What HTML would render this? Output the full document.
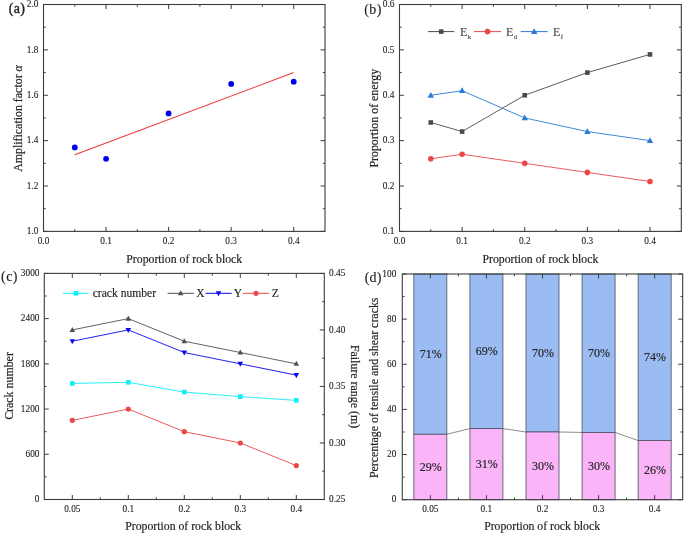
<!DOCTYPE html>
<html><head><meta charset="utf-8"><style>
html,body{margin:0;padding:0;background:#fff;width:685px;height:535px;overflow:hidden}
svg{display:block;font-family:"Liberation Serif", serif;will-change:transform;transform:translateZ(0)}
text{stroke:#2a2a2a;stroke-width:0.18px}
text.tk{stroke-width:0.1px}
text.pl{stroke-width:0.12px}
text.lg{stroke:#444;stroke-width:0.12px}
text.lg2{stroke-width:0.15px}
</style></head><body>
<svg width="685" height="535" viewBox="0 0 685 535">
<rect width="685" height="535" fill="#fff"/>
<rect x="43.50" y="4.50" width="281.50" height="226.90" fill="none" stroke="#3c3c3c" stroke-width="1.1"/>
<line x1="43.50" y1="231.40" x2="43.50" y2="226.90" stroke="#3c3c3c" stroke-width="1"/>
<line x1="43.50" y1="4.50" x2="43.50" y2="9.00" stroke="#3c3c3c" stroke-width="1"/>
<text transform="translate(43.50,243.50) scale(1,1.1)" font-size="9.35" text-anchor="middle" fill="#222" class="tk" >0.0</text>
<line x1="106.06" y1="231.40" x2="106.06" y2="226.90" stroke="#3c3c3c" stroke-width="1"/>
<line x1="106.06" y1="4.50" x2="106.06" y2="9.00" stroke="#3c3c3c" stroke-width="1"/>
<text transform="translate(106.06,243.50) scale(1,1.1)" font-size="9.35" text-anchor="middle" fill="#222" class="tk" >0.1</text>
<line x1="168.61" y1="231.40" x2="168.61" y2="226.90" stroke="#3c3c3c" stroke-width="1"/>
<line x1="168.61" y1="4.50" x2="168.61" y2="9.00" stroke="#3c3c3c" stroke-width="1"/>
<text transform="translate(168.61,243.50) scale(1,1.1)" font-size="9.35" text-anchor="middle" fill="#222" class="tk" >0.2</text>
<line x1="231.17" y1="231.40" x2="231.17" y2="226.90" stroke="#3c3c3c" stroke-width="1"/>
<line x1="231.17" y1="4.50" x2="231.17" y2="9.00" stroke="#3c3c3c" stroke-width="1"/>
<text transform="translate(231.17,243.50) scale(1,1.1)" font-size="9.35" text-anchor="middle" fill="#222" class="tk" >0.3</text>
<line x1="293.72" y1="231.40" x2="293.72" y2="226.90" stroke="#3c3c3c" stroke-width="1"/>
<line x1="293.72" y1="4.50" x2="293.72" y2="9.00" stroke="#3c3c3c" stroke-width="1"/>
<text transform="translate(293.72,243.50) scale(1,1.1)" font-size="9.35" text-anchor="middle" fill="#222" class="tk" >0.4</text>
<line x1="74.78" y1="231.40" x2="74.78" y2="229.20" stroke="#3c3c3c" stroke-width="1"/>
<line x1="74.78" y1="4.50" x2="74.78" y2="6.70" stroke="#3c3c3c" stroke-width="1"/>
<line x1="137.33" y1="231.40" x2="137.33" y2="229.20" stroke="#3c3c3c" stroke-width="1"/>
<line x1="137.33" y1="4.50" x2="137.33" y2="6.70" stroke="#3c3c3c" stroke-width="1"/>
<line x1="199.89" y1="231.40" x2="199.89" y2="229.20" stroke="#3c3c3c" stroke-width="1"/>
<line x1="199.89" y1="4.50" x2="199.89" y2="6.70" stroke="#3c3c3c" stroke-width="1"/>
<line x1="262.44" y1="231.40" x2="262.44" y2="229.20" stroke="#3c3c3c" stroke-width="1"/>
<line x1="262.44" y1="4.50" x2="262.44" y2="6.70" stroke="#3c3c3c" stroke-width="1"/>
<line x1="43.50" y1="231.40" x2="48.00" y2="231.40" stroke="#3c3c3c" stroke-width="1"/>
<line x1="325.00" y1="231.40" x2="320.50" y2="231.40" stroke="#3c3c3c" stroke-width="1"/>
<text transform="translate(38.50,234.10) scale(1,1.1)" font-size="9.35" text-anchor="end" fill="#222" class="tk" >1.0</text>
<line x1="43.50" y1="186.02" x2="48.00" y2="186.02" stroke="#3c3c3c" stroke-width="1"/>
<line x1="325.00" y1="186.02" x2="320.50" y2="186.02" stroke="#3c3c3c" stroke-width="1"/>
<text transform="translate(38.50,188.72) scale(1,1.1)" font-size="9.35" text-anchor="end" fill="#222" class="tk" >1.2</text>
<line x1="43.50" y1="140.64" x2="48.00" y2="140.64" stroke="#3c3c3c" stroke-width="1"/>
<line x1="325.00" y1="140.64" x2="320.50" y2="140.64" stroke="#3c3c3c" stroke-width="1"/>
<text transform="translate(38.50,143.34) scale(1,1.1)" font-size="9.35" text-anchor="end" fill="#222" class="tk" >1.4</text>
<line x1="43.50" y1="95.26" x2="48.00" y2="95.26" stroke="#3c3c3c" stroke-width="1"/>
<line x1="325.00" y1="95.26" x2="320.50" y2="95.26" stroke="#3c3c3c" stroke-width="1"/>
<text transform="translate(38.50,97.96) scale(1,1.1)" font-size="9.35" text-anchor="end" fill="#222" class="tk" >1.6</text>
<line x1="43.50" y1="49.88" x2="48.00" y2="49.88" stroke="#3c3c3c" stroke-width="1"/>
<line x1="325.00" y1="49.88" x2="320.50" y2="49.88" stroke="#3c3c3c" stroke-width="1"/>
<text transform="translate(38.50,52.58) scale(1,1.1)" font-size="9.35" text-anchor="end" fill="#222" class="tk" >1.8</text>
<line x1="43.50" y1="4.50" x2="48.00" y2="4.50" stroke="#3c3c3c" stroke-width="1"/>
<line x1="325.00" y1="4.50" x2="320.50" y2="4.50" stroke="#3c3c3c" stroke-width="1"/>
<text transform="translate(38.50,7.20) scale(1,1.1)" font-size="9.35" text-anchor="end" fill="#222" class="tk" >2.0</text>
<line x1="43.50" y1="208.71" x2="45.70" y2="208.71" stroke="#3c3c3c" stroke-width="1"/>
<line x1="325.00" y1="208.71" x2="322.80" y2="208.71" stroke="#3c3c3c" stroke-width="1"/>
<line x1="43.50" y1="163.33" x2="45.70" y2="163.33" stroke="#3c3c3c" stroke-width="1"/>
<line x1="325.00" y1="163.33" x2="322.80" y2="163.33" stroke="#3c3c3c" stroke-width="1"/>
<line x1="43.50" y1="117.95" x2="45.70" y2="117.95" stroke="#3c3c3c" stroke-width="1"/>
<line x1="325.00" y1="117.95" x2="322.80" y2="117.95" stroke="#3c3c3c" stroke-width="1"/>
<line x1="43.50" y1="72.57" x2="45.70" y2="72.57" stroke="#3c3c3c" stroke-width="1"/>
<line x1="325.00" y1="72.57" x2="322.80" y2="72.57" stroke="#3c3c3c" stroke-width="1"/>
<line x1="43.50" y1="27.19" x2="45.70" y2="27.19" stroke="#3c3c3c" stroke-width="1"/>
<line x1="325.00" y1="27.19" x2="322.80" y2="27.19" stroke="#3c3c3c" stroke-width="1"/>
<text x="184.25" y="262.50" font-size="11.75" text-anchor="middle" fill="#222" >Proportion of rock block</text>
<text transform="translate(21.6,118.5) rotate(-90)" font-size="11.9" text-anchor="middle" fill="#222">Amplification factor <tspan font-style="italic">α</tspan></text>
<text x="8.80" y="12.50" font-size="14" text-anchor="start" fill="#222" style="stroke-width:0.4px" letter-spacing="0.3">(a)</text>
<line x1="74.78" y1="154.71" x2="293.72" y2="72.57" stroke="#f03838" stroke-width="1.1"/>
<circle cx="74.78" cy="147.45" r="2.9" fill="#0000f0"/>
<circle cx="106.06" cy="158.79" r="2.9" fill="#0000f0"/>
<circle cx="168.61" cy="113.41" r="2.9" fill="#0000f0"/>
<circle cx="231.17" cy="83.92" r="2.9" fill="#0000f0"/>
<circle cx="293.72" cy="81.65" r="2.9" fill="#0000f0"/>
<rect x="399.50" y="4.50" width="281.80" height="226.90" fill="none" stroke="#3c3c3c" stroke-width="1.1"/>
<line x1="399.50" y1="231.40" x2="399.50" y2="226.90" stroke="#3c3c3c" stroke-width="1"/>
<line x1="399.50" y1="4.50" x2="399.50" y2="9.00" stroke="#3c3c3c" stroke-width="1"/>
<text transform="translate(399.50,243.50) scale(1,1.1)" font-size="9.35" text-anchor="middle" fill="#222" class="tk" >0.0</text>
<line x1="462.12" y1="231.40" x2="462.12" y2="226.90" stroke="#3c3c3c" stroke-width="1"/>
<line x1="462.12" y1="4.50" x2="462.12" y2="9.00" stroke="#3c3c3c" stroke-width="1"/>
<text transform="translate(462.12,243.50) scale(1,1.1)" font-size="9.35" text-anchor="middle" fill="#222" class="tk" >0.1</text>
<line x1="524.74" y1="231.40" x2="524.74" y2="226.90" stroke="#3c3c3c" stroke-width="1"/>
<line x1="524.74" y1="4.50" x2="524.74" y2="9.00" stroke="#3c3c3c" stroke-width="1"/>
<text transform="translate(524.74,243.50) scale(1,1.1)" font-size="9.35" text-anchor="middle" fill="#222" class="tk" >0.2</text>
<line x1="587.37" y1="231.40" x2="587.37" y2="226.90" stroke="#3c3c3c" stroke-width="1"/>
<line x1="587.37" y1="4.50" x2="587.37" y2="9.00" stroke="#3c3c3c" stroke-width="1"/>
<text transform="translate(587.37,243.50) scale(1,1.1)" font-size="9.35" text-anchor="middle" fill="#222" class="tk" >0.3</text>
<line x1="649.99" y1="231.40" x2="649.99" y2="226.90" stroke="#3c3c3c" stroke-width="1"/>
<line x1="649.99" y1="4.50" x2="649.99" y2="9.00" stroke="#3c3c3c" stroke-width="1"/>
<text transform="translate(649.99,243.50) scale(1,1.1)" font-size="9.35" text-anchor="middle" fill="#222" class="tk" >0.4</text>
<line x1="430.81" y1="231.40" x2="430.81" y2="229.20" stroke="#3c3c3c" stroke-width="1"/>
<line x1="430.81" y1="4.50" x2="430.81" y2="6.70" stroke="#3c3c3c" stroke-width="1"/>
<line x1="493.43" y1="231.40" x2="493.43" y2="229.20" stroke="#3c3c3c" stroke-width="1"/>
<line x1="493.43" y1="4.50" x2="493.43" y2="6.70" stroke="#3c3c3c" stroke-width="1"/>
<line x1="556.06" y1="231.40" x2="556.06" y2="229.20" stroke="#3c3c3c" stroke-width="1"/>
<line x1="556.06" y1="4.50" x2="556.06" y2="6.70" stroke="#3c3c3c" stroke-width="1"/>
<line x1="618.68" y1="231.40" x2="618.68" y2="229.20" stroke="#3c3c3c" stroke-width="1"/>
<line x1="618.68" y1="4.50" x2="618.68" y2="6.70" stroke="#3c3c3c" stroke-width="1"/>
<line x1="399.50" y1="231.40" x2="404.00" y2="231.40" stroke="#3c3c3c" stroke-width="1"/>
<line x1="681.30" y1="231.40" x2="676.80" y2="231.40" stroke="#3c3c3c" stroke-width="1"/>
<text transform="translate(394.50,234.10) scale(1,1.1)" font-size="9.35" text-anchor="end" fill="#222" class="tk" >0.1</text>
<line x1="399.50" y1="186.02" x2="404.00" y2="186.02" stroke="#3c3c3c" stroke-width="1"/>
<line x1="681.30" y1="186.02" x2="676.80" y2="186.02" stroke="#3c3c3c" stroke-width="1"/>
<text transform="translate(394.50,188.72) scale(1,1.1)" font-size="9.35" text-anchor="end" fill="#222" class="tk" >0.2</text>
<line x1="399.50" y1="140.64" x2="404.00" y2="140.64" stroke="#3c3c3c" stroke-width="1"/>
<line x1="681.30" y1="140.64" x2="676.80" y2="140.64" stroke="#3c3c3c" stroke-width="1"/>
<text transform="translate(394.50,143.34) scale(1,1.1)" font-size="9.35" text-anchor="end" fill="#222" class="tk" >0.3</text>
<line x1="399.50" y1="95.26" x2="404.00" y2="95.26" stroke="#3c3c3c" stroke-width="1"/>
<line x1="681.30" y1="95.26" x2="676.80" y2="95.26" stroke="#3c3c3c" stroke-width="1"/>
<text transform="translate(394.50,97.96) scale(1,1.1)" font-size="9.35" text-anchor="end" fill="#222" class="tk" >0.4</text>
<line x1="399.50" y1="49.88" x2="404.00" y2="49.88" stroke="#3c3c3c" stroke-width="1"/>
<line x1="681.30" y1="49.88" x2="676.80" y2="49.88" stroke="#3c3c3c" stroke-width="1"/>
<text transform="translate(394.50,52.58) scale(1,1.1)" font-size="9.35" text-anchor="end" fill="#222" class="tk" >0.5</text>
<line x1="399.50" y1="4.50" x2="404.00" y2="4.50" stroke="#3c3c3c" stroke-width="1"/>
<line x1="681.30" y1="4.50" x2="676.80" y2="4.50" stroke="#3c3c3c" stroke-width="1"/>
<text transform="translate(394.50,7.20) scale(1,1.1)" font-size="9.35" text-anchor="end" fill="#222" class="tk" >0.6</text>
<line x1="399.50" y1="208.71" x2="401.70" y2="208.71" stroke="#3c3c3c" stroke-width="1"/>
<line x1="681.30" y1="208.71" x2="679.10" y2="208.71" stroke="#3c3c3c" stroke-width="1"/>
<line x1="399.50" y1="163.33" x2="401.70" y2="163.33" stroke="#3c3c3c" stroke-width="1"/>
<line x1="681.30" y1="163.33" x2="679.10" y2="163.33" stroke="#3c3c3c" stroke-width="1"/>
<line x1="399.50" y1="117.95" x2="401.70" y2="117.95" stroke="#3c3c3c" stroke-width="1"/>
<line x1="681.30" y1="117.95" x2="679.10" y2="117.95" stroke="#3c3c3c" stroke-width="1"/>
<line x1="399.50" y1="72.57" x2="401.70" y2="72.57" stroke="#3c3c3c" stroke-width="1"/>
<line x1="681.30" y1="72.57" x2="679.10" y2="72.57" stroke="#3c3c3c" stroke-width="1"/>
<line x1="399.50" y1="27.19" x2="401.70" y2="27.19" stroke="#3c3c3c" stroke-width="1"/>
<line x1="681.30" y1="27.19" x2="679.10" y2="27.19" stroke="#3c3c3c" stroke-width="1"/>
<text x="540.40" y="262.50" font-size="11.75" text-anchor="middle" fill="#222" >Proportion of rock block</text>
<text transform="translate(378,118.2) rotate(-90)" font-size="11.9" text-anchor="middle" fill="#222">Proportion of energy</text>
<text x="364.30" y="13.70" font-size="14" text-anchor="start" fill="#222" class="pl" letter-spacing="0.4">(b)</text>
<polyline points="430.81,122.49 462.12,131.56 524.74,95.26 587.37,72.57 649.99,54.42" fill="none" stroke="#4a4a4a" stroke-width="0.9"/>
<polyline points="430.81,158.79 462.12,154.25 524.74,163.33 587.37,172.41 649.99,181.48" fill="none" stroke="#e84848" stroke-width="0.9"/>
<polyline points="430.81,95.26 462.12,90.72 524.74,117.95 587.37,131.56 649.99,140.64" fill="none" stroke="#2a7ad8" stroke-width="0.9"/>
<rect x="428.51" y="120.19" width="4.6" height="4.6" fill="#4a4a4a"/>
<rect x="459.82" y="129.26" width="4.6" height="4.6" fill="#4a4a4a"/>
<rect x="522.44" y="92.96" width="4.6" height="4.6" fill="#4a4a4a"/>
<rect x="585.07" y="70.27" width="4.6" height="4.6" fill="#4a4a4a"/>
<rect x="647.69" y="52.12" width="4.6" height="4.6" fill="#4a4a4a"/>
<circle cx="430.81" cy="158.79" r="2.8" fill="#e84848"/>
<circle cx="462.12" cy="154.25" r="2.8" fill="#e84848"/>
<circle cx="524.74" cy="163.33" r="2.8" fill="#e84848"/>
<circle cx="587.37" cy="172.41" r="2.8" fill="#e84848"/>
<circle cx="649.99" cy="181.48" r="2.8" fill="#e84848"/>
<polygon points="427.61,97.64 434.01,97.64 430.81,91.88" fill="#2a7ad8"/>
<polygon points="458.92,93.10 465.32,93.10 462.12,87.34" fill="#2a7ad8"/>
<polygon points="521.54,120.33 527.94,120.33 524.74,114.57" fill="#2a7ad8"/>
<polygon points="584.17,133.94 590.57,133.94 587.37,128.18" fill="#2a7ad8"/>
<polygon points="646.79,143.02 653.19,143.02 649.99,137.26" fill="#2a7ad8"/>
<line x1="428.10" y1="31.60" x2="454.40" y2="31.60" stroke="#4a4a4a" stroke-width="1"/>
<rect x="438.95" y="29.30" width="4.6" height="4.6" fill="#4a4a4a"/>
<text x="460.00" y="35.90" font-size="12" text-anchor="start" fill="#444" class="lg">E<tspan font-size="7" dx="0.4" dy="3">k</tspan></text>
<line x1="474.00" y1="31.60" x2="501.00" y2="31.60" stroke="#e84848" stroke-width="1"/>
<circle cx="487.50" cy="31.60" r="2.8" fill="#e84848"/>
<text x="506.00" y="35.90" font-size="12" text-anchor="start" fill="#444" class="lg">E<tspan font-size="7" dx="0.4" dy="3">d</tspan></text>
<line x1="520.70" y1="31.60" x2="547.70" y2="31.60" stroke="#2a7ad8" stroke-width="1"/>
<polygon points="530.90,34.07 537.50,34.07 534.20,28.13" fill="#2a7ad8"/>
<text x="553.00" y="35.90" font-size="12" text-anchor="start" fill="#444" class="lg">E<tspan font-size="7" dx="0.4" dy="3">f</tspan></text>
<rect x="44.30" y="273.40" width="280.00" height="226.10" fill="none" stroke="#3c3c3c" stroke-width="1.1"/>
<line x1="72.30" y1="499.50" x2="72.30" y2="495.00" stroke="#3c3c3c" stroke-width="1"/>
<line x1="72.30" y1="273.40" x2="72.30" y2="277.90" stroke="#3c3c3c" stroke-width="1"/>
<text transform="translate(72.30,512.00) scale(1,1.1)" font-size="9.35" text-anchor="middle" fill="#222" class="tk" >0.05</text>
<line x1="128.30" y1="499.50" x2="128.30" y2="495.00" stroke="#3c3c3c" stroke-width="1"/>
<line x1="128.30" y1="273.40" x2="128.30" y2="277.90" stroke="#3c3c3c" stroke-width="1"/>
<text transform="translate(128.30,512.00) scale(1,1.1)" font-size="9.35" text-anchor="middle" fill="#222" class="tk" >0.1</text>
<line x1="184.30" y1="499.50" x2="184.30" y2="495.00" stroke="#3c3c3c" stroke-width="1"/>
<line x1="184.30" y1="273.40" x2="184.30" y2="277.90" stroke="#3c3c3c" stroke-width="1"/>
<text transform="translate(184.30,512.00) scale(1,1.1)" font-size="9.35" text-anchor="middle" fill="#222" class="tk" >0.2</text>
<line x1="240.30" y1="499.50" x2="240.30" y2="495.00" stroke="#3c3c3c" stroke-width="1"/>
<line x1="240.30" y1="273.40" x2="240.30" y2="277.90" stroke="#3c3c3c" stroke-width="1"/>
<text transform="translate(240.30,512.00) scale(1,1.1)" font-size="9.35" text-anchor="middle" fill="#222" class="tk" >0.3</text>
<line x1="296.30" y1="499.50" x2="296.30" y2="495.00" stroke="#3c3c3c" stroke-width="1"/>
<line x1="296.30" y1="273.40" x2="296.30" y2="277.90" stroke="#3c3c3c" stroke-width="1"/>
<text transform="translate(296.30,512.00) scale(1,1.1)" font-size="9.35" text-anchor="middle" fill="#222" class="tk" >0.4</text>
<line x1="100.30" y1="499.50" x2="100.30" y2="497.30" stroke="#3c3c3c" stroke-width="1"/>
<line x1="100.30" y1="273.40" x2="100.30" y2="275.60" stroke="#3c3c3c" stroke-width="1"/>
<line x1="156.30" y1="499.50" x2="156.30" y2="497.30" stroke="#3c3c3c" stroke-width="1"/>
<line x1="156.30" y1="273.40" x2="156.30" y2="275.60" stroke="#3c3c3c" stroke-width="1"/>
<line x1="212.30" y1="499.50" x2="212.30" y2="497.30" stroke="#3c3c3c" stroke-width="1"/>
<line x1="212.30" y1="273.40" x2="212.30" y2="275.60" stroke="#3c3c3c" stroke-width="1"/>
<line x1="268.30" y1="499.50" x2="268.30" y2="497.30" stroke="#3c3c3c" stroke-width="1"/>
<line x1="268.30" y1="273.40" x2="268.30" y2="275.60" stroke="#3c3c3c" stroke-width="1"/>
<line x1="44.30" y1="499.50" x2="48.80" y2="499.50" stroke="#3c3c3c" stroke-width="1"/>
<text transform="translate(39.50,502.20) scale(1,1.1)" font-size="9.35" text-anchor="end" fill="#222" class="tk" >0</text>
<line x1="44.30" y1="454.28" x2="48.80" y2="454.28" stroke="#3c3c3c" stroke-width="1"/>
<text transform="translate(39.50,456.98) scale(1,1.1)" font-size="9.35" text-anchor="end" fill="#222" class="tk" >600</text>
<line x1="44.30" y1="409.06" x2="48.80" y2="409.06" stroke="#3c3c3c" stroke-width="1"/>
<text transform="translate(39.50,411.76) scale(1,1.1)" font-size="9.35" text-anchor="end" fill="#222" class="tk" >1200</text>
<line x1="44.30" y1="363.84" x2="48.80" y2="363.84" stroke="#3c3c3c" stroke-width="1"/>
<text transform="translate(39.50,366.54) scale(1,1.1)" font-size="9.35" text-anchor="end" fill="#222" class="tk" >1800</text>
<line x1="44.30" y1="318.62" x2="48.80" y2="318.62" stroke="#3c3c3c" stroke-width="1"/>
<text transform="translate(39.50,321.32) scale(1,1.1)" font-size="9.35" text-anchor="end" fill="#222" class="tk" >2400</text>
<line x1="44.30" y1="273.40" x2="48.80" y2="273.40" stroke="#3c3c3c" stroke-width="1"/>
<text transform="translate(39.50,276.10) scale(1,1.1)" font-size="9.35" text-anchor="end" fill="#222" class="tk" >3000</text>
<line x1="44.30" y1="476.89" x2="46.50" y2="476.89" stroke="#3c3c3c" stroke-width="1"/>
<line x1="44.30" y1="431.67" x2="46.50" y2="431.67" stroke="#3c3c3c" stroke-width="1"/>
<line x1="44.30" y1="386.45" x2="46.50" y2="386.45" stroke="#3c3c3c" stroke-width="1"/>
<line x1="44.30" y1="341.23" x2="46.50" y2="341.23" stroke="#3c3c3c" stroke-width="1"/>
<line x1="44.30" y1="296.01" x2="46.50" y2="296.01" stroke="#3c3c3c" stroke-width="1"/>
<line x1="324.30" y1="499.50" x2="319.80" y2="499.50" stroke="#3c3c3c" stroke-width="1"/>
<text transform="translate(329.00,502.40) scale(1,1.1)" font-size="9.35" text-anchor="start" fill="#222" class="tk" >0.25</text>
<line x1="324.30" y1="442.98" x2="319.80" y2="442.98" stroke="#3c3c3c" stroke-width="1"/>
<text transform="translate(329.00,445.88) scale(1,1.1)" font-size="9.35" text-anchor="start" fill="#222" class="tk" >0.30</text>
<line x1="324.30" y1="386.45" x2="319.80" y2="386.45" stroke="#3c3c3c" stroke-width="1"/>
<text transform="translate(329.00,389.35) scale(1,1.1)" font-size="9.35" text-anchor="start" fill="#222" class="tk" >0.35</text>
<line x1="324.30" y1="329.92" x2="319.80" y2="329.92" stroke="#3c3c3c" stroke-width="1"/>
<text transform="translate(329.00,332.82) scale(1,1.1)" font-size="9.35" text-anchor="start" fill="#222" class="tk" >0.40</text>
<line x1="324.30" y1="273.40" x2="319.80" y2="273.40" stroke="#3c3c3c" stroke-width="1"/>
<text transform="translate(329.00,276.30) scale(1,1.1)" font-size="9.35" text-anchor="start" fill="#222" class="tk" >0.45</text>
<line x1="324.30" y1="471.24" x2="322.10" y2="471.24" stroke="#3c3c3c" stroke-width="1"/>
<line x1="324.30" y1="414.71" x2="322.10" y2="414.71" stroke="#3c3c3c" stroke-width="1"/>
<line x1="324.30" y1="358.19" x2="322.10" y2="358.19" stroke="#3c3c3c" stroke-width="1"/>
<line x1="324.30" y1="301.66" x2="322.10" y2="301.66" stroke="#3c3c3c" stroke-width="1"/>
<text x="183.20" y="530.40" font-size="11.75" text-anchor="middle" fill="#222" >Proportion of rock block</text>
<text transform="translate(13.1,386) rotate(-90)" font-size="11.9" text-anchor="middle" fill="#222">Crack number</text>
<text transform="translate(350.8,386.5) rotate(90)" font-size="11.9" text-anchor="middle" fill="#222">Failure range (m)</text>
<text x="1.10" y="280.70" font-size="14" text-anchor="start" fill="#222" class="pl" letter-spacing="0.4">(c)</text>
<polyline points="72.30,383.44 128.30,382.30 184.30,392.10 240.30,396.62 296.30,400.39" fill="none" stroke="#10eef8" stroke-width="0.9"/>
<polyline points="72.30,329.92 128.30,318.62 184.30,341.23 240.30,352.53 296.30,363.84" fill="none" stroke="#505050" stroke-width="0.9"/>
<polyline points="72.30,341.23 128.30,329.92 184.30,352.53 240.30,363.84 296.30,375.14" fill="none" stroke="#0808f0" stroke-width="0.9"/>
<polyline points="72.30,420.37 128.30,409.06 184.30,431.67 240.30,442.98 296.30,465.58" fill="none" stroke="#e84848" stroke-width="0.9"/>
<rect x="70.00" y="381.14" width="4.6" height="4.6" fill="#10eef8"/>
<rect x="126.00" y="380.00" width="4.6" height="4.6" fill="#10eef8"/>
<rect x="182.00" y="389.80" width="4.6" height="4.6" fill="#10eef8"/>
<rect x="238.00" y="394.32" width="4.6" height="4.6" fill="#10eef8"/>
<rect x="294.00" y="398.09" width="4.6" height="4.6" fill="#10eef8"/>
<polygon points="69.50,331.94 75.10,331.94 72.30,326.90" fill="#505050"/>
<polygon points="125.50,320.64 131.10,320.64 128.30,315.60" fill="#505050"/>
<polygon points="181.50,343.25 187.10,343.25 184.30,338.21" fill="#505050"/>
<polygon points="237.50,354.55 243.10,354.55 240.30,349.51" fill="#505050"/>
<polygon points="293.50,365.86 299.10,365.86 296.30,360.82" fill="#505050"/>
<polygon points="69.50,339.21 75.10,339.21 72.30,344.25" fill="#0808f0"/>
<polygon points="125.50,327.90 131.10,327.90 128.30,332.94" fill="#0808f0"/>
<polygon points="181.50,350.51 187.10,350.51 184.30,355.55" fill="#0808f0"/>
<polygon points="237.50,361.82 243.10,361.82 240.30,366.86" fill="#0808f0"/>
<polygon points="293.50,373.12 299.10,373.12 296.30,378.16" fill="#0808f0"/>
<circle cx="72.30" cy="420.37" r="2.6" fill="#e84848"/>
<circle cx="128.30" cy="409.06" r="2.6" fill="#e84848"/>
<circle cx="184.30" cy="431.67" r="2.6" fill="#e84848"/>
<circle cx="240.30" cy="442.98" r="2.6" fill="#e84848"/>
<circle cx="296.30" cy="465.58" r="2.6" fill="#e84848"/>
<line x1="63.00" y1="293.30" x2="88.50" y2="293.30" stroke="#10eef8" stroke-width="1"/>
<rect x="73.70" y="291.00" width="4.6" height="4.6" fill="#10eef8"/>
<text x="92.70" y="296.50" font-size="11.6" text-anchor="start" fill="#222" class="lg2">crack number</text>
<line x1="167.60" y1="293.30" x2="193.80" y2="293.30" stroke="#505050" stroke-width="1"/>
<polygon points="177.90,295.32 183.50,295.32 180.70,290.28" fill="#505050"/>
<text x="196.20" y="296.90" font-size="11.6" text-anchor="start" fill="#222" class="lg2">X</text>
<line x1="205.50" y1="293.30" x2="231.70" y2="293.30" stroke="#0808f0" stroke-width="1"/>
<polygon points="215.70,291.28 221.30,291.28 218.50,296.32" fill="#0808f0"/>
<text x="233.80" y="296.90" font-size="11.6" text-anchor="start" fill="#222" class="lg2">Y</text>
<line x1="243.00" y1="293.30" x2="269.00" y2="293.30" stroke="#e84848" stroke-width="1"/>
<circle cx="256.00" cy="293.30" r="2.6" fill="#e84848"/>
<text x="271.80" y="296.90" font-size="11.6" text-anchor="start" fill="#222" class="lg2">Z</text>
<rect x="413.84" y="274.00" width="33" height="160.25" fill="#9bbcf2" stroke="#4a4e5c" stroke-width="0.8"/>
<rect x="413.84" y="434.25" width="33" height="65.45" fill="#fbb4f8" stroke="#4a4e5c" stroke-width="0.8"/>
<rect x="469.92" y="274.00" width="33" height="154.60" fill="#9bbcf2" stroke="#4a4e5c" stroke-width="0.8"/>
<rect x="469.92" y="428.60" width="33" height="71.10" fill="#fbb4f8" stroke="#4a4e5c" stroke-width="0.8"/>
<rect x="526.00" y="274.00" width="33" height="157.99" fill="#9bbcf2" stroke="#4a4e5c" stroke-width="0.8"/>
<rect x="526.00" y="431.99" width="33" height="67.71" fill="#fbb4f8" stroke="#4a4e5c" stroke-width="0.8"/>
<rect x="582.08" y="274.00" width="33" height="158.44" fill="#9bbcf2" stroke="#4a4e5c" stroke-width="0.8"/>
<rect x="582.08" y="432.44" width="33" height="67.26" fill="#fbb4f8" stroke="#4a4e5c" stroke-width="0.8"/>
<rect x="638.16" y="274.00" width="33" height="166.57" fill="#9bbcf2" stroke="#4a4e5c" stroke-width="0.8"/>
<rect x="638.16" y="440.57" width="33" height="59.13" fill="#fbb4f8" stroke="#4a4e5c" stroke-width="0.8"/>
<line x1="446.84" y1="434.25" x2="469.92" y2="428.60" stroke="#707070" stroke-width="0.8"/>
<line x1="502.92" y1="428.60" x2="526.00" y2="431.99" stroke="#707070" stroke-width="0.8"/>
<line x1="559.00" y1="431.99" x2="582.08" y2="432.44" stroke="#707070" stroke-width="0.8"/>
<line x1="615.08" y1="432.44" x2="638.16" y2="440.57" stroke="#707070" stroke-width="0.8"/>
<rect x="402.30" y="274.00" width="280.40" height="225.70" fill="none" stroke="#3c3c3c" stroke-width="1.1"/>
<line x1="430.34" y1="499.70" x2="430.34" y2="495.20" stroke="#3c3c3c" stroke-width="1"/>
<line x1="430.34" y1="274.00" x2="430.34" y2="278.50" stroke="#3c3c3c" stroke-width="1"/>
<text transform="translate(430.34,512.00) scale(1,1.1)" font-size="9.35" text-anchor="middle" fill="#222" class="tk" >0.05</text>
<line x1="486.42" y1="499.70" x2="486.42" y2="495.20" stroke="#3c3c3c" stroke-width="1"/>
<line x1="486.42" y1="274.00" x2="486.42" y2="278.50" stroke="#3c3c3c" stroke-width="1"/>
<text transform="translate(486.42,512.00) scale(1,1.1)" font-size="9.35" text-anchor="middle" fill="#222" class="tk" >0.1</text>
<line x1="542.50" y1="499.70" x2="542.50" y2="495.20" stroke="#3c3c3c" stroke-width="1"/>
<line x1="542.50" y1="274.00" x2="542.50" y2="278.50" stroke="#3c3c3c" stroke-width="1"/>
<text transform="translate(542.50,512.00) scale(1,1.1)" font-size="9.35" text-anchor="middle" fill="#222" class="tk" >0.2</text>
<line x1="598.58" y1="499.70" x2="598.58" y2="495.20" stroke="#3c3c3c" stroke-width="1"/>
<line x1="598.58" y1="274.00" x2="598.58" y2="278.50" stroke="#3c3c3c" stroke-width="1"/>
<text transform="translate(598.58,512.00) scale(1,1.1)" font-size="9.35" text-anchor="middle" fill="#222" class="tk" >0.3</text>
<line x1="654.66" y1="499.70" x2="654.66" y2="495.20" stroke="#3c3c3c" stroke-width="1"/>
<line x1="654.66" y1="274.00" x2="654.66" y2="278.50" stroke="#3c3c3c" stroke-width="1"/>
<text transform="translate(654.66,512.00) scale(1,1.1)" font-size="9.35" text-anchor="middle" fill="#222" class="tk" >0.4</text>
<line x1="458.38" y1="499.70" x2="458.38" y2="497.50" stroke="#3c3c3c" stroke-width="1"/>
<line x1="458.38" y1="274.00" x2="458.38" y2="276.20" stroke="#3c3c3c" stroke-width="1"/>
<line x1="514.46" y1="499.70" x2="514.46" y2="497.50" stroke="#3c3c3c" stroke-width="1"/>
<line x1="514.46" y1="274.00" x2="514.46" y2="276.20" stroke="#3c3c3c" stroke-width="1"/>
<line x1="570.54" y1="499.70" x2="570.54" y2="497.50" stroke="#3c3c3c" stroke-width="1"/>
<line x1="570.54" y1="274.00" x2="570.54" y2="276.20" stroke="#3c3c3c" stroke-width="1"/>
<line x1="626.62" y1="499.70" x2="626.62" y2="497.50" stroke="#3c3c3c" stroke-width="1"/>
<line x1="626.62" y1="274.00" x2="626.62" y2="276.20" stroke="#3c3c3c" stroke-width="1"/>
<line x1="402.30" y1="499.70" x2="406.80" y2="499.70" stroke="#3c3c3c" stroke-width="1"/>
<line x1="682.70" y1="499.70" x2="678.20" y2="499.70" stroke="#3c3c3c" stroke-width="1"/>
<text transform="translate(396.30,502.40) scale(1,1.1)" font-size="9.35" text-anchor="end" fill="#222" class="tk" >0</text>
<line x1="402.30" y1="454.56" x2="406.80" y2="454.56" stroke="#3c3c3c" stroke-width="1"/>
<line x1="682.70" y1="454.56" x2="678.20" y2="454.56" stroke="#3c3c3c" stroke-width="1"/>
<text transform="translate(396.30,457.26) scale(1,1.1)" font-size="9.35" text-anchor="end" fill="#222" class="tk" >20</text>
<line x1="402.30" y1="409.42" x2="406.80" y2="409.42" stroke="#3c3c3c" stroke-width="1"/>
<line x1="682.70" y1="409.42" x2="678.20" y2="409.42" stroke="#3c3c3c" stroke-width="1"/>
<text transform="translate(396.30,412.12) scale(1,1.1)" font-size="9.35" text-anchor="end" fill="#222" class="tk" >40</text>
<line x1="402.30" y1="364.28" x2="406.80" y2="364.28" stroke="#3c3c3c" stroke-width="1"/>
<line x1="682.70" y1="364.28" x2="678.20" y2="364.28" stroke="#3c3c3c" stroke-width="1"/>
<text transform="translate(396.30,366.98) scale(1,1.1)" font-size="9.35" text-anchor="end" fill="#222" class="tk" >60</text>
<line x1="402.30" y1="319.14" x2="406.80" y2="319.14" stroke="#3c3c3c" stroke-width="1"/>
<line x1="682.70" y1="319.14" x2="678.20" y2="319.14" stroke="#3c3c3c" stroke-width="1"/>
<text transform="translate(396.30,321.84) scale(1,1.1)" font-size="9.35" text-anchor="end" fill="#222" class="tk" >80</text>
<line x1="402.30" y1="274.00" x2="406.80" y2="274.00" stroke="#3c3c3c" stroke-width="1"/>
<line x1="682.70" y1="274.00" x2="678.20" y2="274.00" stroke="#3c3c3c" stroke-width="1"/>
<text transform="translate(396.30,276.70) scale(1,1.1)" font-size="9.35" text-anchor="end" fill="#222" class="tk" >100</text>
<line x1="402.30" y1="477.13" x2="404.50" y2="477.13" stroke="#3c3c3c" stroke-width="1"/>
<line x1="682.70" y1="477.13" x2="680.50" y2="477.13" stroke="#3c3c3c" stroke-width="1"/>
<line x1="402.30" y1="431.99" x2="404.50" y2="431.99" stroke="#3c3c3c" stroke-width="1"/>
<line x1="682.70" y1="431.99" x2="680.50" y2="431.99" stroke="#3c3c3c" stroke-width="1"/>
<line x1="402.30" y1="386.85" x2="404.50" y2="386.85" stroke="#3c3c3c" stroke-width="1"/>
<line x1="682.70" y1="386.85" x2="680.50" y2="386.85" stroke="#3c3c3c" stroke-width="1"/>
<line x1="402.30" y1="341.71" x2="404.50" y2="341.71" stroke="#3c3c3c" stroke-width="1"/>
<line x1="682.70" y1="341.71" x2="680.50" y2="341.71" stroke="#3c3c3c" stroke-width="1"/>
<line x1="402.30" y1="296.57" x2="404.50" y2="296.57" stroke="#3c3c3c" stroke-width="1"/>
<line x1="682.70" y1="296.57" x2="680.50" y2="296.57" stroke="#3c3c3c" stroke-width="1"/>
<text x="430.74" y="358.12" font-size="12" text-anchor="middle" fill="#222" >71%</text>
<text x="430.74" y="470.97" font-size="12" text-anchor="middle" fill="#222" >29%</text>
<text x="486.82" y="355.30" font-size="12" text-anchor="middle" fill="#222" >69%</text>
<text x="486.82" y="468.15" font-size="12" text-anchor="middle" fill="#222" >31%</text>
<text x="542.90" y="357.00" font-size="12" text-anchor="middle" fill="#222" >70%</text>
<text x="542.90" y="469.84" font-size="12" text-anchor="middle" fill="#222" >30%</text>
<text x="598.98" y="357.22" font-size="12" text-anchor="middle" fill="#222" >70%</text>
<text x="598.98" y="470.07" font-size="12" text-anchor="middle" fill="#222" >30%</text>
<text x="655.06" y="361.28" font-size="12" text-anchor="middle" fill="#222" >74%</text>
<text x="655.06" y="474.13" font-size="12" text-anchor="middle" fill="#222" >26%</text>
<text x="542.10" y="530.30" font-size="11.75" text-anchor="middle" fill="#222" >Proportion of rock block</text>
<text transform="translate(377.9,387.8) rotate(-90)" font-size="11.9" text-anchor="middle" fill="#222">Percentage of tensile and shear cracks</text>
<text x="364.70" y="282.00" font-size="14" text-anchor="start" fill="#222" class="pl" letter-spacing="0.2">(d)</text>
</svg></body></html>
